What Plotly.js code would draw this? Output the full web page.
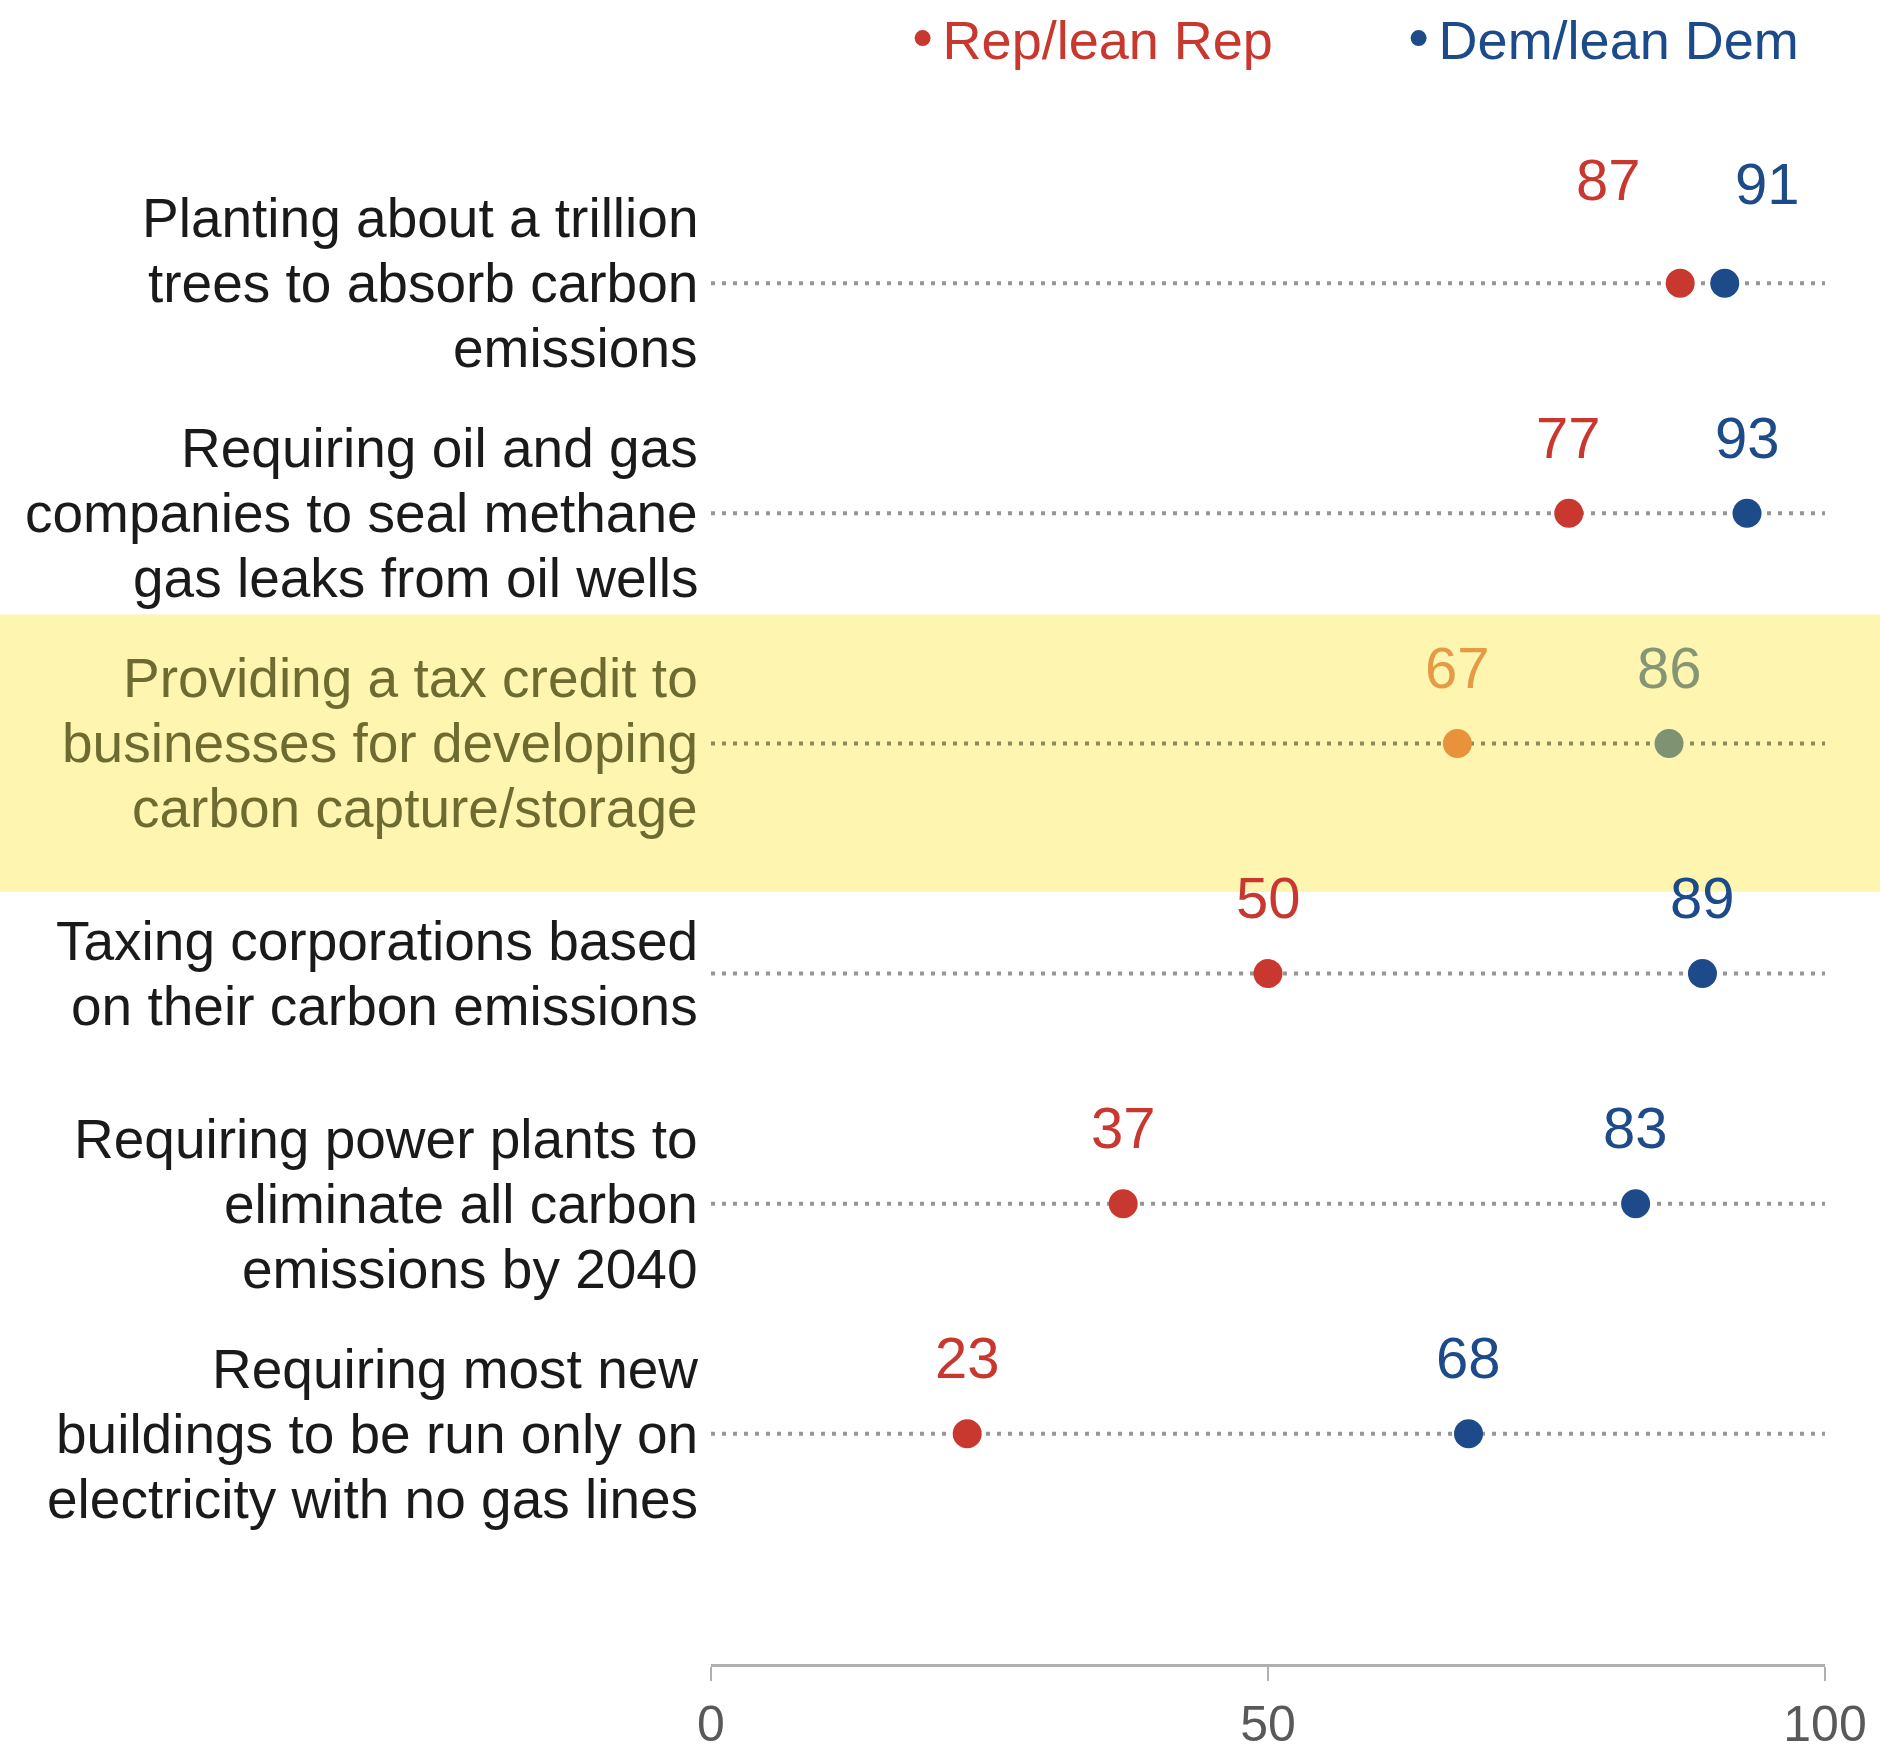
<!DOCTYPE html>
<html>
<head>
<meta charset="utf-8">
<script src="https://cdn.plot.ly/plotly-3.0.1.min.js"></script>
<style>html,body{margin:0;padding:0;background:#fff;}#chart{width:1880px;height:1757px;}</style>
</head>
<body>
<div id="chart"></div>
<script>
// ---- data ----
var categories = [
  "Planting about a trillion<br>trees to absorb carbon<br>emissions",
  "Requiring oil and gas<br>companies to seal methane<br>gas leaks from oil wells",
  "Providing a tax credit to<br>businesses for developing<br>carbon capture/storage",
  "Taxing corporations based<br>on their carbon emissions",
  "Requiring power plants to<br>eliminate all carbon<br>emissions by 2040",
  "Requiring most new<br>buildings to be run only on<br>electricity with no gas lines"
];
var repValues = [87, 77, 67, 50, 37, 23];
var demValues = [91, 93, 86, 89, 83, 68];
var seriesNames = ["Rep/lean Rep", "Dem/lean Dem"];
var xTickVals = [0, 50, 100];
var xTickText = ["0", "50", "100"];
var highlightIndex = 2;

// ---- styles ----
var FONT = "Liberation Sans, Arial, sans-serif";
var repColor = "#c8382e", demColor = "#1d4b8a";
var repHi = "#e8923c", demHi = "#7f9272";
var repHiText = "#e59a45", demHiText = "#869674";
var hiText = "#6e6b30";
var LINE_GAP = 65;

var rows = categories.map(function (c, i) { return i; });

// dotted guide lines
var lx = [], ly = [], hx = [], hy = [];
rows.forEach(function (i) {
  if (i === highlightIndex) { hx.push(0, 100, null); hy.push(i, i, null); }
  else { lx.push(0, 100, null); ly.push(i, i, null); }
});

var traces = [
  {x: lx, y: ly, mode: "lines", line: {color: "#969696", width: 4, dash: "4px,7px"}, showlegend: false, hoverinfo: "skip"},
  {x: hx, y: hy, mode: "lines", line: {color: "#8d8a5c", width: 4, dash: "4px,7px"}, showlegend: false, hoverinfo: "skip"},
  {x: repValues, y: rows, mode: "markers", name: '<span style="color:' + repColor + '">' + seriesNames[0] + '</span>',
   marker: {size: 29, color: rows.map(function (i) { return i === highlightIndex ? repHi : repColor; })}},
  {x: demValues, y: rows, mode: "markers", name: '<span style="color:' + demColor + '">' + seriesNames[1] + '</span>',
   marker: {size: 29, color: rows.map(function (i) { return i === highlightIndex ? demHi : demColor; })}}
];

var annotations = [];
rows.forEach(function (i) {
  var hi = i === highlightIndex;
  var lines = categories[i].split("<br>");
  var n = lines.length;
  lines.forEach(function (ln, k) {
    annotations.push({
      xref: "paper", yref: "y", x: 0, y: i, xshift: -11, yshift: ((n - 1) / 2 - k) * LINE_GAP,
      xanchor: "right", yanchor: "middle", align: "right",
      text: ln, showarrow: false,
      font: {family: FONT, size: 55, color: hi ? hiText : "#1a1a1a"}
    });
  });
  annotations.push({
    xref: "x", yref: "y", x: repValues[i], y: i, yshift: i === 0 ? 104 : 76, xshift: i === 0 ? -72 : 0,
    text: String(repValues[i]), showarrow: false,
    font: {family: FONT, size: 58, color: hi ? repHiText : repColor}
  });
  annotations.push({
    xref: "x", yref: "y", x: demValues[i], y: i, yshift: i === 0 ? 100 : 76, xshift: i === 0 ? 43 : 0,
    text: String(demValues[i]), showarrow: false,
    font: {family: FONT, size: 58, color: hi ? demHiText : demColor}
  });
});

var layout = {
  width: 1880, height: 1757,
  margin: {l: 711, r: 55, t: 53, b: 93, autoexpand: false},
  paper_bgcolor: "#ffffff", plot_bgcolor: "rgba(0,0,0,0)",
  font: {family: FONT},
  showlegend: true,
  legend: {orientation: "h", x: 0.172, xanchor: "left", y: 1.009, yanchor: "middle",
           font: {family: FONT, size: 54}, bgcolor: "rgba(0,0,0,0)", entrywidth: 451, itemsizing: "trace"},
  xaxis: {range: [0, 100], tickvals: xTickVals, ticktext: xTickText, showgrid: false, zeroline: false,
          showline: true, linecolor: "#b0b0b0", linewidth: 3, ticks: "outside", ticklen: 14, tickwidth: 2,
          tickcolor: "#b0b0b0", tickfont: {family: FONT, size: 50, color: "#595959"}, ticklabelstandoff: 0,
          fixedrange: true},
  yaxis: {range: [6, -1], showgrid: false, zeroline: false, showticklabels: false, showline: false, fixedrange: true},
  shapes: [{type: "rect", xref: "paper", yref: "y", x0: -0.7, x1: 1.1, y0: highlightIndex - 0.56, y1: highlightIndex + 0.645,
            fillcolor: "#fdf5b0", line: {width: 0}, layer: "below"}],
  annotations: annotations
};

Plotly.newPlot("chart", traces, layout, {displayModeBar: false, staticPlot: true});
</script>
</body>
</html>
